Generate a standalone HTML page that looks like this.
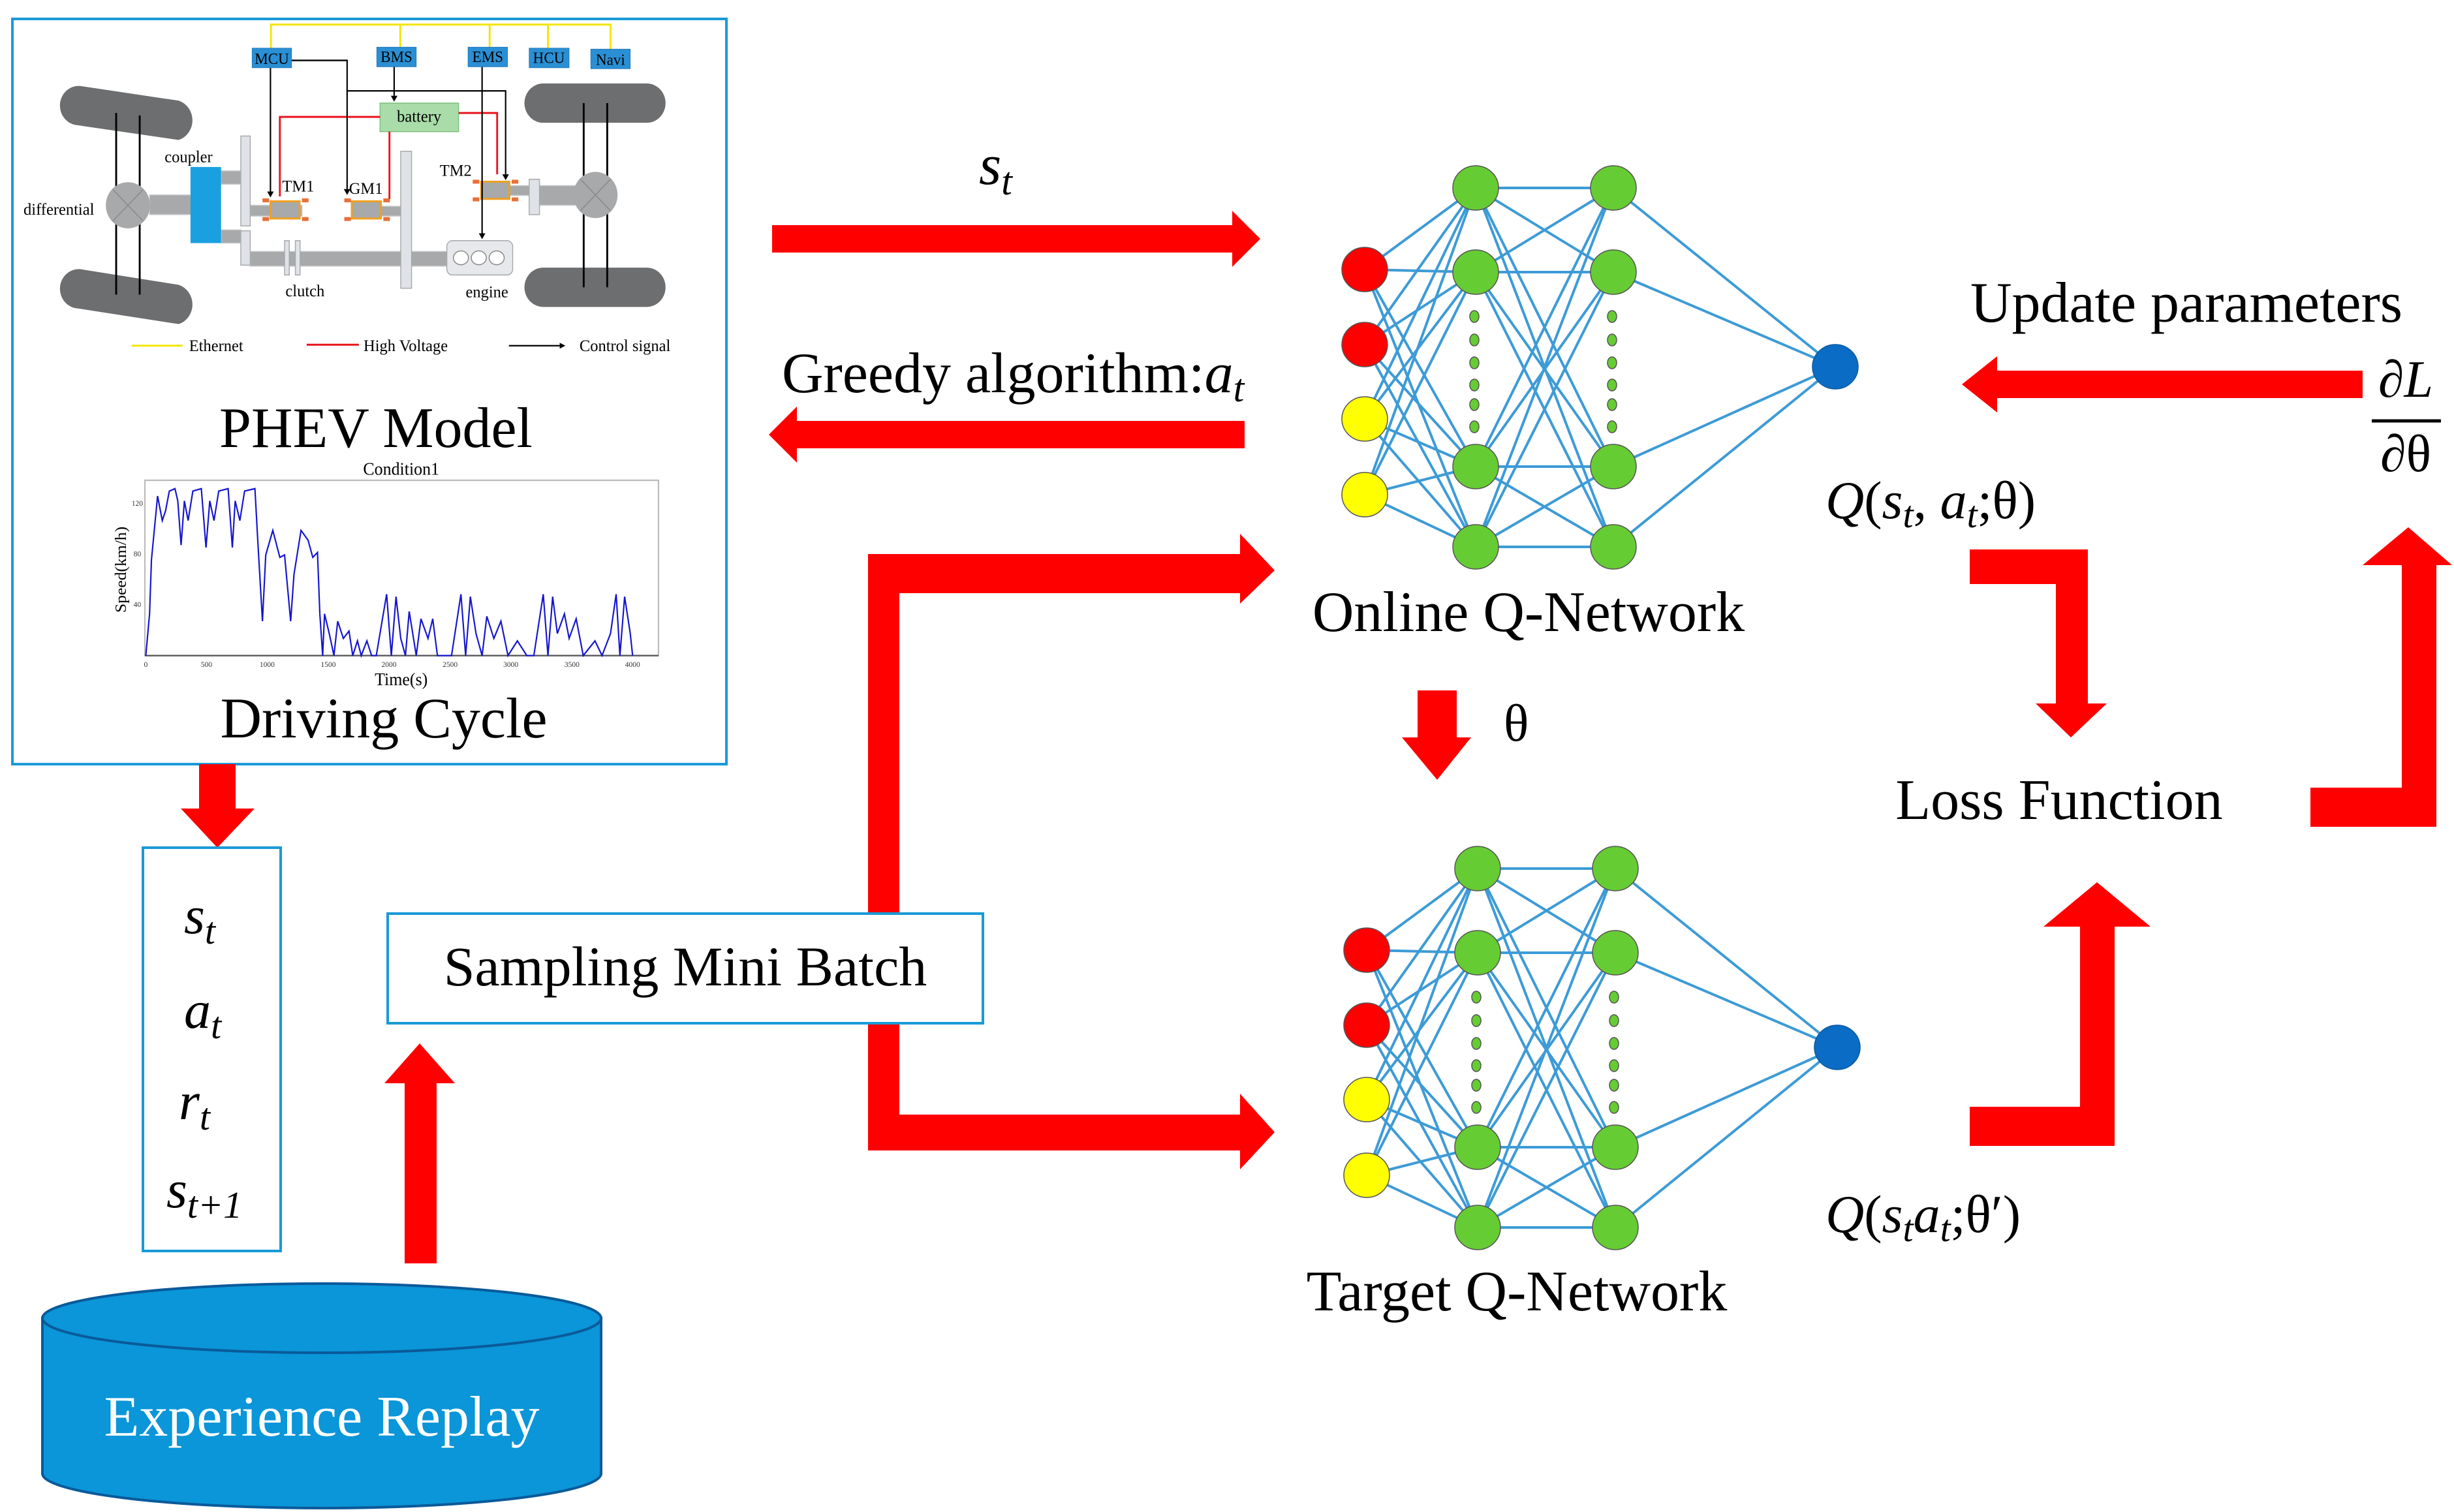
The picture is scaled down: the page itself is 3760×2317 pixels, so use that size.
<!DOCTYPE html>
<html><head><meta charset="utf-8"><style>
html,body{margin:0;padding:0;background:#fff;}
svg{display:block;}
text{font-family:"Liberation Serif",serif;}
</style></head><body>
<svg width="3760" height="2317" viewBox="0 0 3760 2317" xmlns="http://www.w3.org/2000/svg">
<rect width="3760" height="2317" fill="#fff"/>

<!-- PHEV box -->
<rect x="19" y="29" width="1094" height="1142" fill="none" stroke="#1a9ad6" stroke-width="4"/>
<svg x="0" y="0" width="1130" height="1180" viewBox="0 0 1568 1568" preserveAspectRatio="none">
 <g fill="none" stroke="#f2e600" stroke-width="4">
  <polyline points="576,100 576,50 1298,50 1298,100"/>
  <line x1="851" y1="50" x2="851" y2="96"/><line x1="1041" y1="50" x2="1041" y2="96"/><line x1="1165" y1="50" x2="1165" y2="98"/>
 </g>
 <!-- tyres -->
 <g fill="#6d6e70">
  <path d="M170,175 L380,205 A42,42 0 0 1 380,285 L165,255 A40,40 0 0 1 170,175Z"/>
  <path d="M170,548 L380,580 A42,42 0 0 1 380,660 L165,628 A40,40 0 0 1 170,548Z"/>
  <rect x="1115" y="170" width="300" height="80" rx="40"/>
  <rect x="1115" y="545" width="300" height="80" rx="40"/>
 </g>
 <g stroke="#000" stroke-width="4">
  <line x1="247" y1="230" x2="247" y2="600"/><line x1="297" y1="235" x2="297" y2="600"/>
  <line x1="1241" y1="210" x2="1241" y2="585"/><line x1="1291" y1="210" x2="1291" y2="585"/>
 </g>
 <g fill="#a7a9ab" stroke="#c8cacc" stroke-width="2">
  <rect x="318" y="397" width="90" height="40"/>
  <rect x="470" y="348" width="42" height="27"/><rect x="470" y="468" width="42" height="27"/>
  <rect x="532" y="418" width="110" height="22"/>
  <rect x="532" y="512" width="420" height="30"/>
  <rect x="810" y="420" width="45" height="20"/>
  <rect x="1083" y="378" width="45" height="20"/>
  <rect x="1147" y="378" width="80" height="40"/>
 </g>
 <g fill="#dfe3e8" stroke="#a7a9ab" stroke-width="2">
  <rect x="512" y="277" width="20" height="183"/><rect x="512" y="470" width="20" height="70"/>
  <rect x="852" y="308" width="23" height="279"/>
  <rect x="1125" y="365" width="22" height="72"/>
  <rect x="605" y="490" width="10" height="70"/><rect x="628" y="490" width="10" height="70"/>
 </g>
 <g fill="#a7a9ab"><circle cx="272" cy="418" r="47"/><circle cx="1266" cy="397" r="47"/></g>
 <g stroke="#888" stroke-width="2"><line x1="240" y1="386" x2="304" y2="450"/><line x1="304" y1="386" x2="240" y2="450"/><line x1="1234" y1="365" x2="1298" y2="429"/><line x1="1298" y1="365" x2="1234" y2="429"/></g>
 <rect x="405" y="340" width="65" height="155" fill="#1aa0e0"/>
 <!-- motors -->
 <g>
  <rect x="575" y="410" width="62" height="35" fill="#a7a9ab" stroke="#f0a020" stroke-width="4"/>
  <rect x="748" y="410" width="62" height="35" fill="#a7a9ab" stroke="#f0a020" stroke-width="4"/>
  <rect x="1023" y="370" width="60" height="35" fill="#a7a9ab" stroke="#f0a020" stroke-width="4"/>
  <g fill="#e8703a"><rect x="558" y="404" width="14" height="8"/><rect x="642" y="404" width="14" height="8"/><rect x="558" y="442" width="14" height="8"/><rect x="642" y="442" width="14" height="8"/>
  <rect x="732" y="404" width="14" height="8"/><rect x="815" y="404" width="14" height="8"/><rect x="732" y="442" width="14" height="8"/><rect x="815" y="442" width="14" height="8"/>
  <rect x="1005" y="366" width="14" height="8"/><rect x="1088" y="366" width="14" height="8"/><rect x="1005" y="402" width="14" height="8"/><rect x="1088" y="402" width="14" height="8"/></g>
 </g>
 <rect x="950" y="490" width="140" height="70" rx="12" fill="#e6e8eb" stroke="#a7a9ab" stroke-width="2"/>
 <g fill="#fff" stroke="#888" stroke-width="2"><ellipse cx="980" cy="525" rx="16" ry="14"/><ellipse cx="1018" cy="525" rx="16" ry="14"/><ellipse cx="1056" cy="525" rx="16" ry="14"/></g>
 <rect x="808" y="210" width="167" height="58" fill="#a9dca9" stroke="#7bbf7b" stroke-width="2"/>
 <text x="891" y="248" font-size="34" text-anchor="middle">battery</text>
 <g fill="none" stroke="#e8141c" stroke-width="4">
  <polyline points="808,238 595,238 595,400"/>
  <line x1="828" y1="268" x2="828" y2="405"/>
  <polyline points="975,230 1057,230 1057,355"/>
 </g>
 <g fill="none" stroke="#000" stroke-width="3">
  <line x1="575" y1="138" x2="575" y2="390"/>
  <polyline points="620,123 738,123 738,385"/>
  <polyline points="738,185 1075,185 1075,355"/>
  <line x1="838" y1="136" x2="838" y2="195"/>
  <line x1="1025" y1="136" x2="1025" y2="475"/>
  <line x1="1082" y1="704" x2="1190" y2="704"/>
 </g>
 <g fill="#000">
  <path d="M568,390 L582,390 L575,402Z"/><path d="M731,385 L745,385 L738,397Z"/><path d="M1068,355 L1082,355 L1075,367Z"/><path d="M831,195 L845,195 L838,207Z"/><path d="M1018,475 L1032,475 L1025,487Z"/><path d="M1190,698 L1202,704 L1190,710Z"/>
 </g>
 <g fill="#2a8fd4" stroke="#1a6fb0" stroke-width="1">
  <rect x="536" y="98" width="84" height="40"/><rect x="801" y="96" width="84" height="40"/><rect x="995" y="96" width="84" height="40"/><rect x="1125" y="98" width="85" height="40"/><rect x="1256" y="100" width="84" height="40"/>
 </g>
 <g font-size="32" text-anchor="middle">
  <text x="578" y="130">MCU</text><text x="843" y="126">BMS</text><text x="1037" y="126">EMS</text><text x="1167" y="128">HCU</text><text x="1298" y="132">Navi</text>
 </g>
 <g font-size="34">
  <text x="350" y="330">coupler</text><text x="50" y="437">differential</text><text x="600" y="390">TM1</text><text x="742" y="395">GM1</text><text x="935" y="358">TM2</text><text x="607" y="603">clutch</text><text x="990" y="605">engine</text>
  <text x="402" y="715">Ethernet</text><text x="773" y="715">High Voltage</text><text x="1232" y="715">Control signal</text>
 </g>
 <line x1="280" y1="704" x2="388" y2="704" stroke="#f2e600" stroke-width="4"/>
 <line x1="652" y1="702" x2="763" y2="702" stroke="#e8141c" stroke-width="4"/>
 <!-- chart -->
 <text x="853" y="967" font-size="36" text-anchor="middle">Condition1</text>
 <rect x="308" y="978" width="1092" height="357" fill="#fff" stroke="#bbb" stroke-width="3"/>
 <line x1="308" y1="1335" x2="1400" y2="1335" stroke="#555" stroke-width="3"/>
 <text x="853" y="1395" font-size="36" text-anchor="middle">Time(s)</text>
 <text transform="translate(268,1160) rotate(-90)" font-size="34" text-anchor="middle">Speed(km/h)</text>
 <g font-size="16" fill="#333"><text x="280" y="1030">120</text><text x="284" y="1133">80</text><text x="284" y="1236">40</text></g>
 <g font-size="16" fill="#333" text-anchor="middle">
  <text x="310" y="1358">0</text><text x="439" y="1358">500</text><text x="568" y="1358">1000</text><text x="698" y="1358">1500</text><text x="827" y="1358">2000</text><text x="957" y="1358">2500</text><text x="1086" y="1358">3000</text><text x="1216" y="1358">3500</text><text x="1345" y="1358">4000</text>
 </g>
 <polyline fill="none" stroke="#1515d0" stroke-width="3" points="310,1335 318,1250 322,1140 335,1010 345,1060 352,1040 360,1000 372,995 378,1020 385,1110 392,1020 400,1060 410,1000 428,995 438,1115 446,1020 455,1060 465,1000 485,995 494,1115 500,1020 510,1060 520,1000 542,995 548,1100 558,1265 565,1130 580,1080 595,1135 605,1130 618,1265 625,1170 640,1080 655,1100 665,1135 675,1125 680,1250 686,1335 690,1250 700,1290 710,1335 718,1265 730,1300 742,1285 750,1335 760,1305 768,1335 780,1305 790,1335 800,1335 822,1210 832,1335 842,1215 852,1300 862,1335 870,1245 885,1335 895,1260 910,1300 920,1260 930,1335 960,1335 980,1210 990,1335 1000,1215 1012,1290 1025,1335 1035,1255 1050,1300 1065,1265 1080,1335 1100,1305 1120,1335 1135,1335 1155,1210 1165,1335 1175,1215 1185,1290 1200,1250 1210,1300 1225,1260 1240,1335 1265,1305 1280,1335 1298,1290 1310,1210 1318,1335 1328,1215 1340,1290 1345,1335"/>
</svg>
<text x="576" y="685" font-size="88" text-anchor="middle">PHEV Model</text>
<text x="588" y="1130" font-size="88" text-anchor="middle">Driving Cycle</text>

<!-- red arrows -->
<g fill="#ff0000">
 <path d="M1183,345 L1888,345 L1888,323 L1931,366 L1888,409 L1888,387 L1183,387Z"/>
 <path d="M1907,645 L1221,645 L1221,623 L1178,666 L1221,709 L1221,687 L1907,687Z"/>
 <path d="M3620,568 L3060,568 L3060,546 L3006,589 L3060,632 L3060,610 L3620,610Z"/>
 <path d="M3018,842 L3199,842 L3199,1078 L3228,1078 L3173,1130 L3119,1078 L3150,1078 L3150,895 L3018,895Z"/>
 <path d="M3018,1696 L3187,1696 L3187,1420 L3131,1420 L3213,1352 L3295,1420 L3240,1420 L3240,1756 L3018,1756Z"/>
 <path d="M3540,1207 L3680,1207 L3680,866 L3620,866 L3690,808 L3757,866 L3733,866 L3733,1267 L3540,1267Z"/>
 <path d="M2172,1058 L2232,1058 L2232,1130 L2254,1130 L2202,1195 L2148,1130 L2172,1130Z"/>
 <path d="M1330,1400 L1330,849 L1900,849 L1900,818 L1953,874 L1900,925 L1900,909 L1378,909 L1378,1400Z"/>
 <path d="M1330,1568 L1378,1568 L1378,1708 L1900,1708 L1900,1676 L1953,1735 L1900,1792 L1900,1763 L1330,1763Z"/>
 <path d="M620,1936 L620,1660 L589,1660 L643,1599 L697,1660 L669,1660 L669,1936Z"/>
 <path d="M305,1171 L361,1171 L361,1239 L390,1239 L333,1299 L277,1239 L305,1239Z"/>
</g>

<!-- networks -->
<defs>
<g id="net">
 <g stroke="#3d9bd6" stroke-width="4" fill="none">
  <path d="M2091,413 L2261,288 M2091,413 L2261,417 M2091,413 L2261,715 M2091,413 L2261,838
  M2091,528 L2261,288 M2091,528 L2261,417 M2091,528 L2261,715 M2091,528 L2261,838
  M2091,642 L2261,288 M2091,642 L2261,417 M2091,642 L2261,715 M2091,642 L2261,838
  M2091,758 L2261,288 M2091,758 L2261,417 M2091,758 L2261,715 M2091,758 L2261,838
  M2261,288 L2472,288 M2261,288 L2472,417 M2261,288 L2472,715 M2261,288 L2472,838
  M2261,417 L2472,288 M2261,417 L2472,417 M2261,417 L2472,715 M2261,417 L2472,838
  M2261,715 L2472,288 M2261,715 L2472,417 M2261,715 L2472,715 M2261,715 L2472,838
  M2261,838 L2472,288 M2261,838 L2472,417 M2261,838 L2472,715 M2261,838 L2472,838
  M2472,288 L2812,562 M2472,417 L2812,562 M2472,715 L2812,562 M2472,838 L2812,562"/>
 </g>
 <g stroke="#555" stroke-width="1.5">
  <ellipse cx="2091" cy="413" rx="35" ry="34" fill="#ff0000"/><ellipse cx="2091" cy="528" rx="35" ry="34" fill="#ff0000"/>
  <ellipse cx="2091" cy="642" rx="35" ry="34" fill="#ffff00"/><ellipse cx="2091" cy="758" rx="35" ry="34" fill="#ffff00"/>
  <g fill="#66cc33">
  <ellipse cx="2261" cy="288" rx="35" ry="34"/><ellipse cx="2261" cy="417" rx="35" ry="34"/><ellipse cx="2261" cy="715" rx="35" ry="34"/><ellipse cx="2261" cy="838" rx="35" ry="34"/>
  <ellipse cx="2472" cy="288" rx="35" ry="34"/><ellipse cx="2472" cy="417" rx="35" ry="34"/><ellipse cx="2472" cy="715" rx="35" ry="34"/><ellipse cx="2472" cy="838" rx="35" ry="34"/>
  <ellipse cx="2259" cy="485" rx="7" ry="9"/><ellipse cx="2259" cy="521" rx="7" ry="9"/><ellipse cx="2259" cy="556" rx="7" ry="9"/><ellipse cx="2259" cy="590" rx="7" ry="9"/><ellipse cx="2259" cy="620" rx="7" ry="9"/><ellipse cx="2259" cy="654" rx="7" ry="9"/>
  <ellipse cx="2470" cy="485" rx="7" ry="9"/><ellipse cx="2470" cy="521" rx="7" ry="9"/><ellipse cx="2470" cy="556" rx="7" ry="9"/><ellipse cx="2470" cy="590" rx="7" ry="9"/><ellipse cx="2470" cy="620" rx="7" ry="9"/><ellipse cx="2470" cy="654" rx="7" ry="9"/>
  </g>
  <ellipse cx="2812" cy="562" rx="35" ry="34" fill="#0a6cc4" stroke="#0a5aa0"/>
 </g>
</g>
</defs>
<use href="#net"/>
<use href="#net" transform="translate(3,1043)"/>

<!-- labels -->
<g font-size="88">
 <text x="2342" y="967" text-anchor="middle">Online Q-Network</text>
 <text x="2324" y="2008" text-anchor="middle">Target Q-Network</text>
 <text x="3155" y="1255" text-anchor="middle">Loss Function</text>
 <text x="3350" y="493" text-anchor="middle">Update parameters</text>
 <text x="1198" y="601">Greedy algorithm:<tspan font-style="italic">a</tspan><tspan font-style="italic" font-size="60" dy="14">t</tspan></text>
 <text x="2304" y="1135" font-size="80">θ</text>
</g>
<text x="1500" y="282" font-size="88" font-style="italic">s<tspan font-size="60" dy="16">t</tspan></text>
<text x="3686" y="608" font-size="80" text-anchor="middle">∂<tspan font-style="italic">L</tspan></text>
<line x1="3634" y1="645" x2="3740" y2="645" stroke="#000" stroke-width="5"/>
<text x="3686" y="722" font-size="80" text-anchor="middle">∂θ</text>
<text x="2797" y="794" font-size="82"><tspan font-style="italic">Q</tspan>(<tspan font-style="italic">s</tspan><tspan font-style="italic" font-size="58" dy="14">t</tspan><tspan dy="-14">, </tspan><tspan font-style="italic">a</tspan><tspan font-style="italic" font-size="58" dy="14">t</tspan><tspan dy="-14">;θ)</tspan></text>
<text x="2797" y="1888" font-size="82"><tspan font-style="italic">Q</tspan>(<tspan font-style="italic">s</tspan><tspan font-style="italic" font-size="58" dy="14">t</tspan><tspan font-style="italic" dy="-14">a</tspan><tspan font-style="italic" font-size="58" dy="14">t</tspan><tspan dy="-14">;θ′)</tspan></text>

<!-- Sampling box -->
<rect x="594" y="1400" width="912" height="168" fill="#fff" stroke="#1a9ad6" stroke-width="4"/>
<text x="1050" y="1510" font-size="86" text-anchor="middle">Sampling Mini Batch</text>

<!-- transition box -->
<rect x="219" y="1299" width="211" height="618" fill="#fff" stroke="#1a9ad6" stroke-width="4"/>
<g font-size="82" font-style="italic">
 <text x="282" y="1430">s<tspan font-size="58" dy="16">t</tspan></text>
 <text x="282" y="1575">a<tspan font-size="58" dy="16">t</tspan></text>
 <text x="274" y="1715">r<tspan font-size="58" dy="16">t</tspan></text>
 <text x="255" y="1850">s<tspan font-size="58" dy="16">t+1</tspan></text>
</g>

<!-- cylinder -->
<path d="M65,2020 L65,2258 A428,53 0 0 0 921,2258 L921,2020Z" fill="#0a96d8" stroke="#0a5a9a" stroke-width="4"/>
<ellipse cx="493" cy="2020" rx="428" ry="53" fill="#0a96d8" stroke="#0a5a9a" stroke-width="4"/>
<text x="493" y="2200" font-size="88" fill="#fff" text-anchor="middle">Experience Replay</text>
</svg>
</body></html>
